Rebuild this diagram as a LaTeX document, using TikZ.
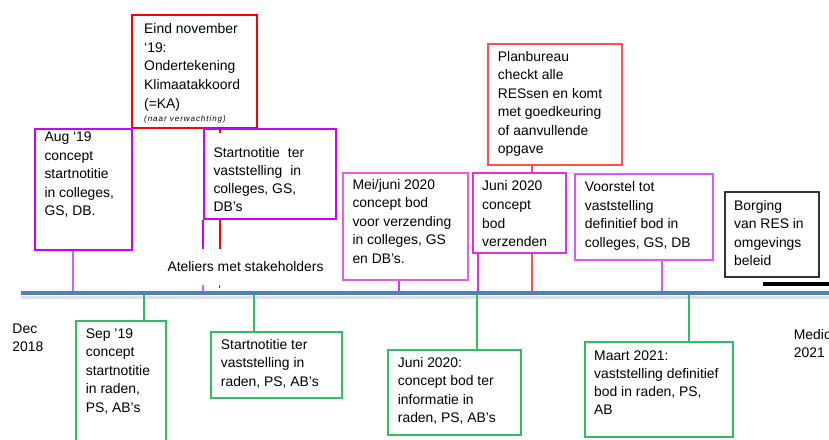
\documentclass[tikz,border=0pt]{standalone}
\usepackage{fontspec}
\setmainfont{Liberation Sans}
\newfontfamily\smallit[LetterSpace=12]{Liberation Sans}
\definecolor{purA}{HTML}{CC00FF}
\definecolor{purL}{HTML}{D060FF}
\definecolor{redA}{HTML}{FF0000}
\definecolor{redB}{HTML}{FF5050}
\definecolor{magJ}{HTML}{E030E0}
\definecolor{magM}{HTML}{E060E8}
\definecolor{magV}{HTML}{DD55FF}
\definecolor{grn}{HTML}{2EBE64}
\definecolor{blueT}{HTML}{4F81BD}
\definecolor{grayB}{HTML}{333333}
\newcommand{\mlines}[1]{\begin{tabular}[t]{@{}l@{}}#1\end{tabular}}
\begin{document}
\begin{tikzpicture}[x=1pt,y=-1pt,
  box/.style={draw, fill=white, inner sep=0pt, anchor=north west},
  txt/.style={font=\fontsize{13.9}{18.5}\selectfont, inner sep=0pt, anchor=base west},
  redbox/.style={box, draw=redA, line width=2pt},
  purbox/.style={box, draw=purA, line width=2pt},
  grnbox/.style={box, draw=grn, line width=1.7pt},
  grnline/.style={draw=grn, line width=1.7pt}]
\useasboundingbox (0,0) rectangle (829,439);

% timeline
\coordinate (tlL) at (20.7,293);
\coordinate (tlR) at (829,293);
\coordinate (tlt) at (0,290.7);
\coordinate (tlb) at (0,295.3);
\coordinate (shL) at (20.7,297.6);
\coordinate (shR) at (829,297.6);
\coordinate (bkL) at (762.7,284.2);
\coordinate (bkR) at (829,284.2);
\draw[black!12, line width=2.6pt] (shL) -- (shR);
\draw[blueT, line width=4.6pt] (tlL) -- (tlR);
\draw[black, line width=3.7pt] (bkL) -- (bkR);

% upper boxes
\node[redbox, minimum width=125pt, minimum height=113pt] (r1) at (131,14) {};
\node[txt] at (144,33.3) {\fontsize{13.9}{18.7}\selectfont\mlines{Eind november\\‘19:\\Ondertekening\\Klimaatakkoord\\(=KA)}};
\node[inner sep=0pt, anchor=base west, font=\smallit\itshape\fontsize{8}{9}\selectfont] at (144,121.7) {(naar verwachting)};

\node[purbox, minimum width=97pt, minimum height=121pt] (aug) at (34,128) {};
\node[txt] at (44.3,141.7) {\mlines{Aug ‘19\\concept\\startnotitie\\in colleges,\\GS, DB.}};

\node[purbox, minimum width=132pt, minimum height=90pt] (sp) at (203,128) {};
\node[txt] at (213.3,157.3) {\fontsize{13.9}{18.1}\selectfont\mlines{Startnotitie\hspace{0.3em} ter\\vaststelling\hspace{0.3em} in\\colleges, GS,\\DB’s}};

\node[box, draw=magM, line width=1.6pt, minimum width=125pt, minimum height=107pt] (mj) at (342,172) {};
\node[txt] at (352.3,189.3) {\mlines{Mei/juni 2020\\concept bod\\voor verzending\\in colleges, GS\\en DB’s.}};

\node[box, draw=magJ, line width=1.6pt, minimum width=93pt, minimum height=80pt] (jc) at (472,172) {};
\node[txt] at (482,190.7) {\fontsize{13.9}{18.7}\selectfont\mlines{Juni 2020\\concept\\bod\\verzenden}};

\node[box, draw=redB, line width=1.6pt, minimum width=134pt, minimum height=121pt] (pb) at (487,43) {};
\node[txt] at (497.7,61) {\mlines{Planbureau\\checkt alle\\RESsen en komt\\met goedkeuring\\of aanvullende\\opgave}};

\node[box, draw=magV, line width=2pt, minimum width=138pt, minimum height=86pt] (vs) at (574,173) {};
\node[txt] at (584.7,191.7) {\mlines{Voorstel tot\\vaststelling\\definitief bod in\\colleges, GS, DB}};

\node[box, draw=grayB, line width=1.6pt, minimum width=94pt, minimum height=85pt] (bo) at (724,191) {};
\node[txt] at (734,210) {\fontsize{13.9}{18.6}\selectfont\mlines{Borging\\van RES in\\omgevings\\beleid}};

\node[txt, inner xsep=2pt, text height=10pt, text depth=0pt, minimum height=35.5pt] (atel) at (165.3,271.7) {Ateliers met stakeholders};

% lower boxes
\node[txt] (dec) at (12.3,333.3) {\mlines{Dec\\2018}};

\node[grnbox, minimum width=90pt, minimum height=130pt] (sep) at (75,320) {};
\node[txt] at (85.7,338.3) {\mlines{Sep ’19\\concept\\startnotitie\\in raden,\\PS, AB’s}};

\node[grnbox, minimum width=131pt, minimum height=66pt] (sg) at (210,331) {};
\node[txt] at (220.7,349.3) {\fontsize{13.9}{18.35}\selectfont\mlines{Startnotitie ter\\vaststelling in\\raden, PS, AB’s}};

\node[grnbox, minimum width=133pt, minimum height=85pt] (jg) at (387,349) {};
\node[txt] at (397.7,367.3) {\mlines{Juni 2020:\\concept bod ter\\informatie in\\raden, PS, AB’s}};

\node[grnbox, minimum width=148pt, minimum height=95pt] (ma) at (584,341) {};
\node[txt] at (594,360) {\fontsize{13.9}{18.3}\selectfont\mlines{Maart 2021:\\vaststelling definitief\\bod in raden, PS,\\AB}};

\node[txt] (medio) at (793.7,339.3) {\mlines{Medio\\2021}};

% connectors
\draw[purL, line width=1.6pt] (73,0 |- aug.south) -- (73,0 |- tlt);
\draw[purA, line width=2pt] (sp.south west) -- (sp.south west |- atel.north);
\draw[purL, line width=1.6pt] (sp.south west |- atel.south) -- (sp.south west |- tlt);
\draw[redA, line width=1.6pt] (220,0 |- r1.south) -- (220,132.5);
\draw[redA, line width=2pt] (220,0 |- sp.south) -- (220,0 |- atel.north);
\draw[redA, line width=1pt] (219.5,0 |- atel.south) -- (219.5,288);
\draw[magJ, line width=1.6pt] (399,0 |- mj.south) -- (399,0 |- tlt);
\draw[magJ, line width=1.6pt] (478,0 |- jc.south) -- (478,0 |- tlt);
\draw[redB, line width=1.6pt] (532,0 |- pb.south) -- (532,0 |- jc.north);
\draw[redB, line width=1.6pt] (532,0 |- jc.south) -- (532,0 |- tlt);
\draw[magV, line width=2pt] (662,0 |- vs.south) -- (662,0 |- tlt);
\draw[grnline] (144,0 |- tlb) -- (144,0 |- sep.north);
\draw[grnline] (254,0 |- tlb) -- (254,0 |- sg.north);
\draw[grnline] (477,0 |- tlb) -- (477,0 |- jg.north);
\draw[grnline] (689,0 |- tlb) -- (689,0 |- ma.north);
\end{tikzpicture}
\end{document}
